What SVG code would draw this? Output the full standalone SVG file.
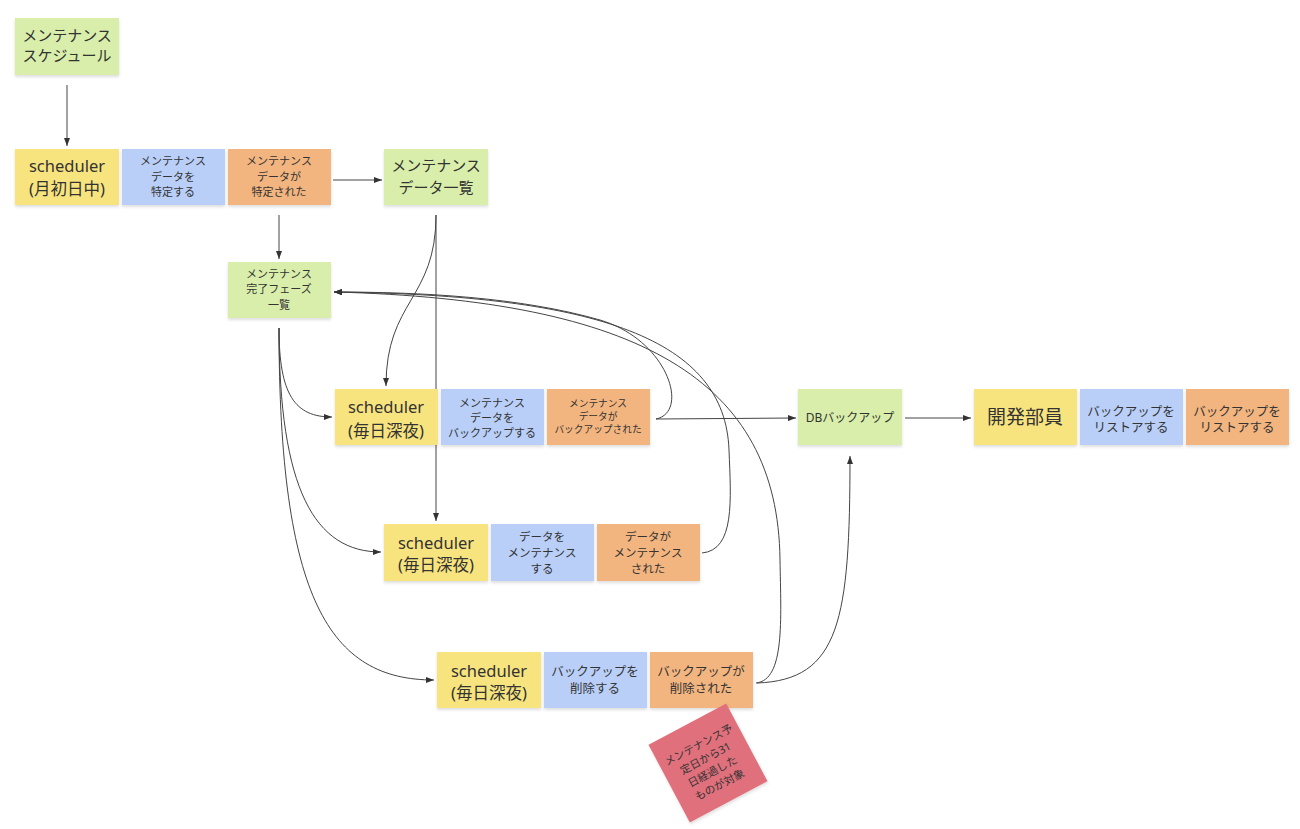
<svg xmlns="http://www.w3.org/2000/svg" width="1300" height="829" viewBox="0 0 1300 829">
<style>
text{font-family:"Noto Sans","Noto Sans CJK JP",sans-serif;fill:#333;text-anchor:middle;dominant-baseline:central}
.y{fill:#f8e47f}.b{fill:#b9cff8}.o{fill:#f2b57f}.g{fill:#d8eeaa}.r{fill:#e06f7c}
.n rect{filter:url(#sh)}
.c path{fill:none;stroke:#444;stroke-width:1;marker-end:url(#ah)}
.L{font-size:16.5px}.M{font-size:15px}.S{font-size:11px}.T{font-size:9.7px}.U{font-size:12.5px}
</style>
<defs>
<filter id="sh" x="-10%" y="-10%" width="120%" height="130%"><feDropShadow dx="0" dy="2" stdDeviation="1.5" flood-color="#000" flood-opacity="0.13"/></filter>
<marker id="ah" markerUnits="userSpaceOnUse" markerWidth="8" markerHeight="6" refX="8" refY="3" orient="auto"><path d="M0,0 L8,3 L0,6 z" fill="#333"/></marker>
</defs>
<rect width="1300" height="829" fill="#fff"/>
<g class="c" id="connectors">
<path d="M67,85 L67,146"/>
<path d="M333,180 L382,180"/>
<path d="M279,215 L279,259"/>
<path d="M436,215 C436,300 386,300 386,386"/>
<path d="M436,215 L436,521"/>
<path d="M279,328 C279,395 295,417 332,417"/>
<path d="M279,328 C279,490 315,552 381,552"/>
<path d="M279,328 C279,600 330,680 434,680"/>
<path d="M656,419 C690,412 668,340 600,320 C520,297 420,292 334,292"/>
<path d="M702,553 C735,550 731,500 729,450 C725,340 600,295 334,292"/>
<path d="M756,683 C785,680 781,620 780,560 C778,380 640,300 334,292"/>
<path d="M656,419 L796,418"/>
<path d="M905,418 L971,418"/>
<path d="M757,683 C840,680 850,620 850,456"/>
</g>
<g class="n" id="n-schedule"><rect class="g" x="15" y="18" width="104" height="57"/><text class="M" x="67" y="35">メンテナンス</text><text class="M" x="67" y="55">スケジュール</text></g>
<g class="n" id="n-sched1"><rect class="y" x="15" y="149" width="104" height="56"/><text class="L" x="67" y="165">scheduler</text><text class="L" x="67" y="188">(月初日中)</text></g>
<g class="n" id="n-identify"><rect class="b" x="122" y="149" width="103" height="56"/><text class="S" x="173" y="160">メンテナンス</text><text class="S" x="173" y="176">データを</text><text class="S" x="173" y="191">特定する</text></g>
<g class="n" id="n-identified"><rect class="o" x="228" y="149" width="103" height="56"/><text class="S" x="279" y="160">メンテナンス</text><text class="S" x="279" y="176">データが</text><text class="S" x="279" y="191">特定された</text></g>
<g class="n" id="n-datalist"><rect class="g" x="384" y="149" width="104" height="56"/><text class="M" x="436" y="165">メンテナンス</text><text class="M" x="436" y="187">データ一覧</text></g>
<g class="n" id="n-phase"><rect class="g" x="228" y="262" width="103" height="56"/><text class="S" x="279" y="273">メンテナンス</text><text class="S" x="279" y="288">完了フェーズ</text><text class="S" x="279" y="304">一覧</text></g>
<g class="n" id="n-sched2"><rect class="y" x="335" y="389" width="103" height="56"/><text class="L" x="386" y="406">scheduler</text><text class="L" x="386" y="430">(毎日深夜)</text></g>
<g class="n" id="n-backup"><rect class="b" x="441" y="389" width="103" height="56"/><text class="S" x="492" y="402">メンテナンス</text><text class="S" x="492" y="417">データを</text><text class="S" x="492" y="432">バックアップする</text></g>
<g class="n" id="n-backedup"><rect class="o" x="547" y="389" width="103" height="56"/><text class="T" x="598" y="403">メンテナンス</text><text class="T" x="598" y="416">データが</text><text class="T" x="598" y="429">バックアップされた</text></g>
<g class="n" id="n-sched3"><rect class="y" x="384" y="524" width="104" height="57"/><text class="L" x="436" y="542">scheduler</text><text class="L" x="436" y="564">(毎日深夜)</text></g>
<g class="n" id="n-maint"><rect class="b" x="491" y="524" width="103" height="57"/><text class="U" x="542" y="536" style="font-size:11.5px">データを</text><text class="U" x="542" y="552" style="font-size:11.5px">メンテナンス</text><text class="U" x="542" y="568" style="font-size:11.5px">する</text></g>
<g class="n" id="n-mainted"><rect class="o" x="597" y="524" width="103" height="57"/><text class="U" x="648" y="536" style="font-size:11.5px">データが</text><text class="U" x="648" y="552" style="font-size:11.5px">メンテナンス</text><text class="U" x="648" y="568" style="font-size:11.5px">された</text></g>
<g class="n" id="n-sched4"><rect class="y" x="437" y="652" width="104" height="56"/><text class="L" x="489" y="670">scheduler</text><text class="L" x="489" y="692">(毎日深夜)</text></g>
<g class="n" id="n-delete"><rect class="b" x="544" y="652" width="103" height="56"/><text class="U" x="595" y="671">バックアップを</text><text class="U" x="595" y="688">削除する</text></g>
<g class="n" id="n-deleted"><rect class="o" x="650" y="652" width="103" height="56"/><text class="U" x="701" y="671">バックアップが</text><text class="U" x="701" y="688">削除された</text></g>
<g class="n" id="n-note" transform="translate(708,763) rotate(-28)"><rect class="r" x="-44" y="-44" width="88" height="88"/><text class="S" x="0" y="-21" style="font-size:10.8px">メンテナンス予</text><text class="S" x="0" y="-6" style="font-size:10.8px">定日から31</text><text class="S" x="0" y="9" style="font-size:10.8px">日経過した</text><text class="S" x="0" y="24" style="font-size:10.8px">ものが対象</text></g>
<g class="n" id="n-db"><rect class="g" x="798" y="389" width="104" height="56"/><text x="850" y="417" style="font-size:12px">DBバックアップ</text></g>
<g class="n" id="n-dev"><rect class="y" x="974" y="389" width="103" height="56"/><text x="1025" y="417" style="font-size:19px">開発部員</text></g>
<g class="n" id="n-restore"><rect class="b" x="1080" y="389" width="103" height="56"/><text class="U" x="1131" y="411">バックアップを</text><text class="U" x="1131" y="427">リストアする</text></g>
<g class="n" id="n-restored"><rect class="o" x="1186" y="389" width="103" height="56"/><text class="U" x="1237" y="411">バックアップを</text><text class="U" x="1237" y="427">リストアする</text></g>
</svg>
